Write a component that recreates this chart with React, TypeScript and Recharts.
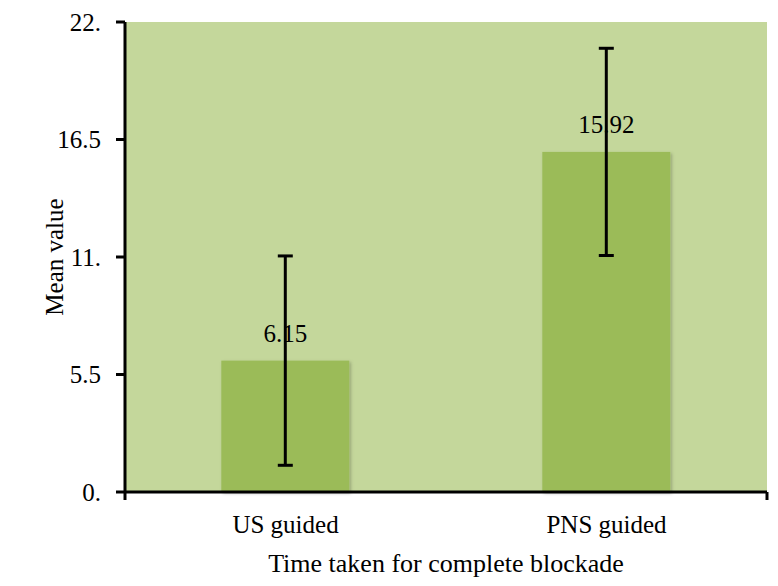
import React from 'react';
import { BarChart, Bar, XAxis, YAxis, CartesianGrid, ErrorBar, LabelList } from 'recharts';

const categories = ['US guided', 'PNS guided'];
const meanValues = [6.15, 15.92];
const errorValues = [4.9, 4.85];
const yTicks = [0, 5.5, 11, 16.5, 22];

const data = categories.map((name, i) => ({ name, mean: meanValues[i], err: errorValues[i] }));

const FONT = '"Liberation Serif", "Times New Roman", serif';

const formatY = (v: number) => (Number.isInteger(v) ? `${v}.` : `${v}`);

// rotated y title, centred on the axis height
const YTitle = ({ viewBox }: any) => {
  const x = viewBox.x - 11;
  const y = viewBox.y + viewBox.height / 2;
  return (
    <text
      x={x}
      y={y}
      transform={`rotate(-90, ${x}, ${y})`}
      textAnchor="middle"
      dominantBaseline="central"
      fill="#000"
      fontSize={25}
      fontFamily={FONT}
    >
      Mean value
    </text>
  );
};

// bar with the soft office-style shadow
const ShadowBar = (props: any) => {
  const { x, y, width, height, fill, index } = props;
  const id = `bar-shadow-${index}`;
  return (
    <g>
      <defs>
        <filter id={id} x="-10%" y="-10%" width="120%" height="120%">
          <feDropShadow dx="1.5" dy="1.5" stdDeviation="1.5" floodColor="#000" floodOpacity="0.25" />
        </filter>
      </defs>
      <rect x={x} y={y} width={width} height={height} fill={fill} filter={`url(#${id})`} />
    </g>
  );
};

const App: React.FC = () => {
  return (
    <div style={{ position: 'absolute', left: 0, top: 0, width: 778, height: 586, background: '#fff' }}>
      <BarChart
        width={778}
        height={586}
        data={data}
        margin={{ top: 22, right: 11, left: 65, bottom: 0 }}
        barCategoryGap="30%"
      >
        <CartesianGrid horizontal={false} vertical={false} fill="#C4D79B" />
        {/* boundary tick marks between categories */}
        <XAxis
          xAxisId="a"
          type="number"
          domain={[0, 2]}
          ticks={[0, 1, 2]}
          height={8}
          tickFormatter={() => ''}
          tickSize={8}
          axisLine={{ stroke: '#000', strokeWidth: 3 }}
          tickLine={{ stroke: '#000', strokeWidth: 3 }}
        />
        <XAxis
          xAxisId="b"
          dataKey="name"
          height={86}
          axisLine={false}
          tickLine={false}
          tickMargin={9}
          tick={{ fill: '#000', fontSize: 25, fontFamily: FONT }}
          label={{
            value: 'Time taken for complete blockade',
            position: 'insideBottom',
            offset: 14,
            fill: '#000',
            fontSize: 26,
            fontFamily: FONT,
          }}
        />
        <YAxis
          width={60}
          domain={[0, 22]}
          ticks={yTicks}
          tickFormatter={formatY}
          tickSize={9}
          tickMargin={15}
          axisLine={{ stroke: '#000', strokeWidth: 3 }}
          tickLine={{ stroke: '#000', strokeWidth: 3 }}
          tick={{ fill: '#000', fontSize: 25, fontFamily: FONT }}
          label={<YTitle />}
        />
        <Bar dataKey="mean" xAxisId="b" fill="#9BBB59" shape={<ShadowBar />} isAnimationActive={false}>
          <LabelList
            dataKey="mean"
            position="top"
            offset={19}
            fill="#000"
            fontSize={25}
            fontFamily={FONT}
          />
          <ErrorBar dataKey="err" width={7.5} strokeWidth={3} stroke="#000" direction="y" />
        </Bar>
      </BarChart>
    </div>
  );
};

export default App;
